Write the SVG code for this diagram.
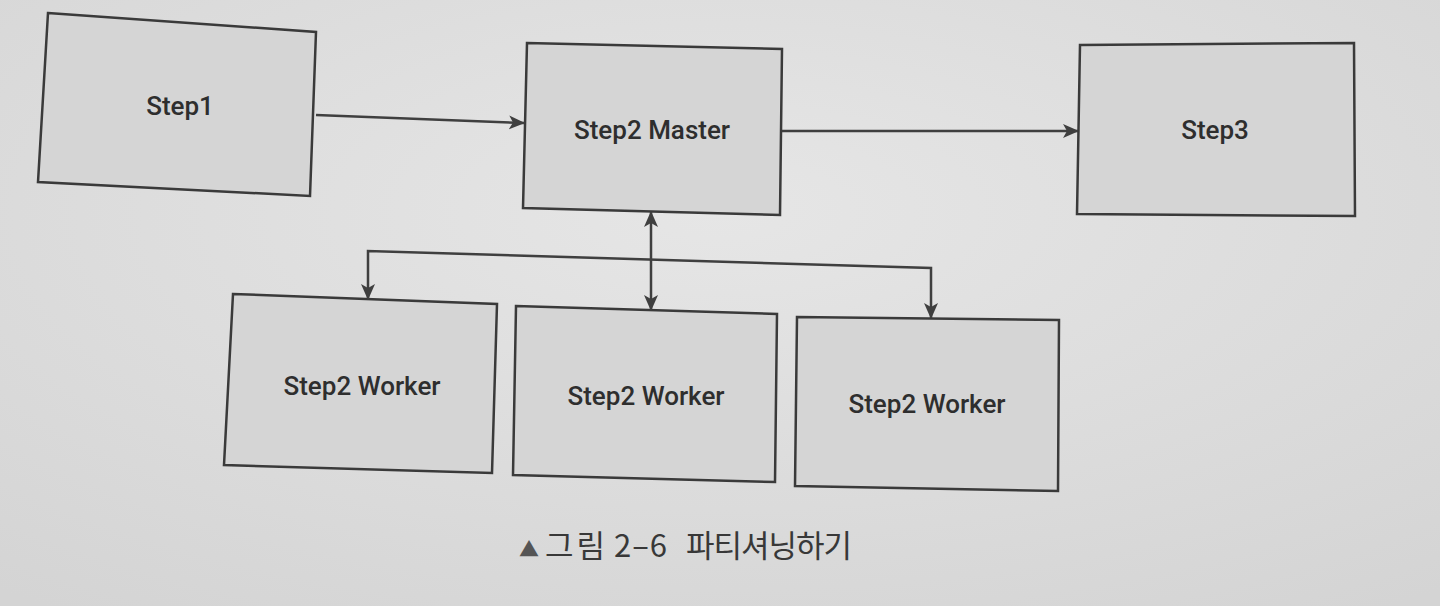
<svg xmlns="http://www.w3.org/2000/svg" width="1440" height="606" viewBox="0 0 1440 606">
  <defs>
    <radialGradient id="bg" cx="0.5" cy="0.35" r="0.8">
      <stop offset="0" stop-color="#e6e6e6"/>
      <stop offset="1" stop-color="#d4d4d4"/>
    </radialGradient>
    <marker id="ah" viewBox="0 0 16 16" refX="15" refY="8" markerWidth="16" markerHeight="16" orient="auto-start-reverse" markerUnits="userSpaceOnUse">
      <path d="M0,1 L16,8 L0,15 L4,8 Z" fill="#3f3f3f"/>
    </marker>
    <style>
      .box { fill: #d5d5d5; stroke: #3a3a3a; stroke-width: 2.5; stroke-linejoin: miter; }
      .lbl { font-family: Roboto, "Liberation Sans", sans-serif; font-weight: 500; font-size: 26px; fill: #2e2e2e; text-anchor: middle; dominant-baseline: central; }
      .con { fill: none; stroke: #3f3f3f; stroke-width: 2.5; }
      .cap { font-family: "Noto Sans CJK KR", "Noto Sans", sans-serif; font-size: 31px; fill: #383838; }
    </style>
  </defs>
  <rect x="0" y="0" width="1440" height="606" fill="url(#bg)"/>

  <g id="step1">
    <polygon class="box" points="48,13 316,32 310,196 38,182"/>
    <text class="lbl" x="180" y="106">Step1</text>
  </g>
  <g id="step2-master">
    <polygon class="box" points="527,43 782,49 780,215 523,208"/>
    <text class="lbl" x="652" y="130">Step2 Master</text>
  </g>
  <g id="step3">
    <polygon class="box" points="1080,45 1354,43 1355,216 1077,214"/>
    <text class="lbl" x="1215" y="130">Step3</text>
  </g>
  <g id="worker1">
    <polygon class="box" points="233,294 497,304 492,473 224,465"/>
    <text class="lbl" x="362" y="386">Step2 Worker</text>
  </g>
  <g id="worker2">
    <polygon class="box" points="516,306 777,314 775,482 513,475"/>
    <text class="lbl" x="646" y="396">Step2 Worker</text>
  </g>
  <g id="worker3">
    <polygon class="box" points="797,317 1059,320 1058,491 795,486"/>
    <text class="lbl" x="927" y="404">Step2 Worker</text>
  </g>

  <g id="connectors">
    <path class="con" d="M316,115 L524,123" marker-end="url(#ah)"/>
    <path class="con" d="M782,131 L1078,131" marker-end="url(#ah)"/>
    <path class="con" d="M651,212 L651,310" marker-start="url(#ah)" marker-end="url(#ah)"/>
    <path class="con" d="M368,299 L368,251 L931,268 L931,318" marker-start="url(#ah)" marker-end="url(#ah)"/>
  </g>

  <g id="caption">
    <text class="cap" y="557"><tspan x="519" font-size="20" fill="#555">▲</tspan><tspan x="545" textLength="60">그림</tspan><tspan x="614" textLength="53">2–6</tspan><tspan x="686" textLength="166">파티셔닝하기</tspan></text>
  </g>
</svg>
